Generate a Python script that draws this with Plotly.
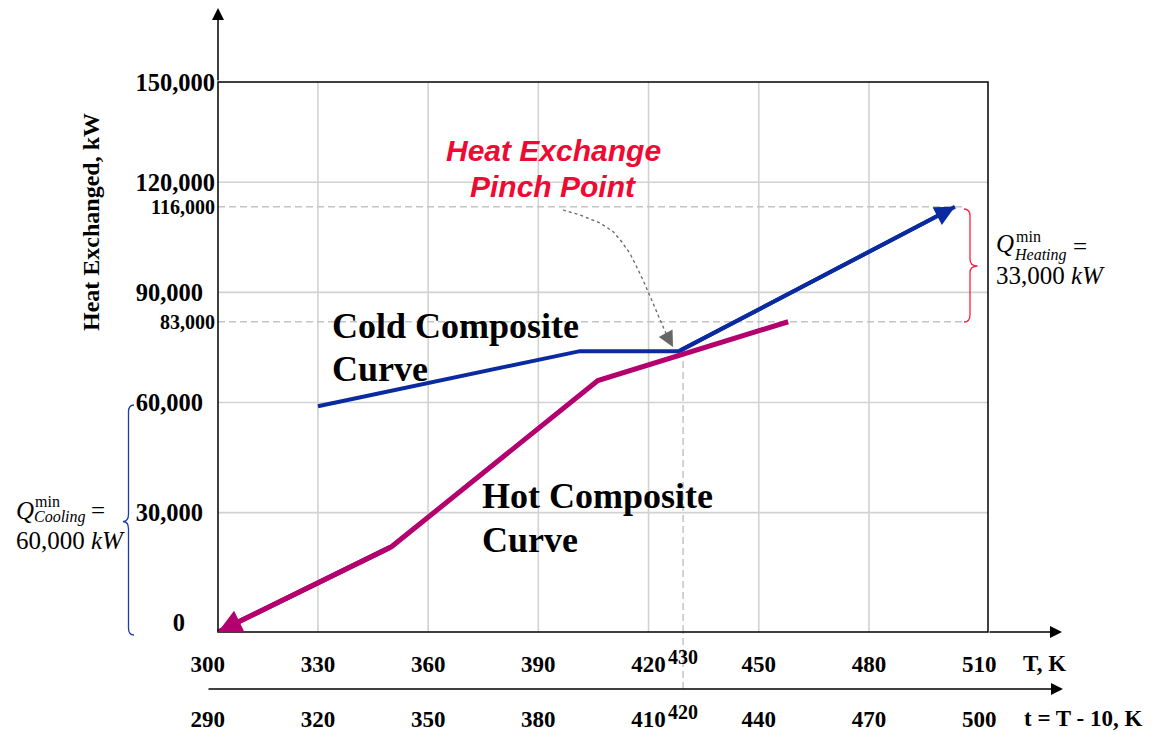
import plotly.graph_objects as go

# ---------------- values ----------------
# Cold composite curve (T in K, heat in kW); last point carries the arrowhead
COLD_T = [330.0, 401.3, 428.3, 503.4]
COLD_Q = [59000, 74000, 74000, 113300]
# Hot composite curve, listed in the direction of the arrow (hot -> cold)
HOT_T = [458.0, 406.2, 350.0, 302.8]
HOT_Q = [82000, 66000, 20700, -2500]

PINCH_T = 429.4           # dashed vertical through the pinch
PINCH_Q = 74000
DASH_END_T = 505.6        # right end of the horizontal dashed guides

T_TICKS = [300, 330, 360, 390, 420, 450, 480, 510]
T_TICK_TEXT = ["300", "330", "360", "390", "420", "450", "480", "510"]
t_TICKS = [290, 320, 350, 380, 410, 440, 470, 500]
t_TICK_TEXT = ["290", "320", "350", "380", "410", "440", "470", "500"]
PINCH_T_LABEL = "430"
PINCH_t_LABEL = "420"

GRID_T = [330, 360, 390, 420, 450, 480]
GRID_Q = [30000, 60000, 90000, 120000]

Q_TICKS_A = [30000, 60000, 90000]
Q_TICK_TEXT_A = ["30,000", "60,000", "90,000"]
Q_TICKS_B = [120000]
Q_TICK_TEXT_B = ["120,000"]
Q_TICKS_END = [HOT_Q[0], COLD_Q[-1]]
Q_TICK_TEXT_END = ["83,000", "116,000"]
Q_TICKS_ZERO = [0]
Q_TICK_TEXT_ZERO = ["0"]
FRAME_Q = [0, 150000]     # the frame edges are labelled 0 / 150,000
Q_TICKS_TOP = [150000]
Q_TICK_TEXT_TOP = ["150,000"]

BOX_T = [302.8, 512.4]    # frame of the chart in T units
BOX_Q = [-2500, 147300]   # frame of the chart in kW units

# ---------------- layout geometry ----------------
FIG_W, FIG_H = 1154, 734
M_L, M_R, M_T, M_B = 150, 60, 5, 5
PW = FIG_W - M_L - M_R
PH = FIG_H - M_T - M_B
BOX_L, BOX_R, BOX_TOP, BOX_BOT = 218, 988, 82, 632
T_AXIS_Y = 689


def fx(px):
    return (px - M_L) / PW


def fy(py):
    return (FIG_H - M_B - py) / PH


k_per_px = (BOX_T[1] - BOX_T[0]) / (BOX_R - BOX_L)
X_RANGE = [BOX_T[0] - (BOX_L - M_L) * k_per_px,
           BOX_T[1] + (M_L + PW - BOX_R) * k_per_px]

SERIF = "Liberation Serif, Times New Roman, serif"
SANS = "Liberation Sans, Arial, sans-serif"
COLD = "#0A2BA0"
HOT = "#B4006E"
GRID = "#D2D2D2"
DASH = "#C4C4C4"
PINCH_RED = "#EE0A32"

fig = go.Figure()

fig.add_trace(go.Scatter(x=COLD_T, y=COLD_Q, mode="lines",
                         line=dict(color=COLD, width=4), hoverinfo="skip",
                         showlegend=False))
fig.add_trace(go.Scatter(x=HOT_T, y=HOT_Q, mode="lines",
                         line=dict(color=HOT, width=5), hoverinfo="skip",
                         showlegend=False))
# empty traces that bind the label-only axes
for ya in ["y2", "y3", "y4", "y5"]:
    fig.add_trace(go.Scatter(x=[None], y=[None], xaxis="x", yaxis=ya,
                             hoverinfo="skip", showlegend=False))
fig.add_trace(go.Scatter(x=[None], y=[None], xaxis="x2", yaxis="y",
                         hoverinfo="skip", showlegend=False))

tick_font = dict(family=SERIF, size=23, color="black", weight="bold")
ytick_font = dict(family=SERIF, size=24.5, color="black", weight="bold")
small_font = dict(family=SERIF, size=20, color="black", weight="bold")

common_y = dict(anchor="free", position=fx(BOX_L), side="left", showgrid=False,
                zeroline=False, showline=False, ticks="", tickmode="array",
                fixedrange=True)

fig.update_layout(
    width=FIG_W, height=FIG_H,
    margin=dict(l=M_L, r=M_R, t=M_T, b=M_B, autoexpand=False),
    paper_bgcolor="white", plot_bgcolor="rgba(0,0,0,0)",
    showlegend=False,
    xaxis=dict(domain=[0, 1], range=X_RANGE, tickmode="array", tickvals=T_TICKS,
               ticktext=T_TICK_TEXT, showgrid=False, zeroline=False,
               showline=False, ticks="", tickfont=tick_font,
               ticklabelstandoff=16, fixedrange=True),
    xaxis2=dict(overlaying="x", anchor="free", position=fy(T_AXIS_Y),
                range=[v - 10 for v in X_RANGE], tickmode="array",
                tickvals=t_TICKS, ticktext=t_TICK_TEXT, showgrid=False,
                zeroline=False, showline=False, ticks="", tickfont=tick_font,
                ticklabelstandoff=14, fixedrange=True),
    yaxis=dict(domain=[fy(BOX_BOT), fy(BOX_TOP)], range=BOX_Q,
               tickvals=Q_TICKS_A, ticktext=Q_TICK_TEXT_A, tickfont=ytick_font,
               ticklabelstandoff=15, **common_y),
    yaxis2=dict(overlaying="y", range=BOX_Q, tickvals=Q_TICKS_B,
                ticktext=Q_TICK_TEXT_B, tickfont=ytick_font,
                ticklabelstandoff=3, **common_y),
    yaxis3=dict(overlaying="y", range=BOX_Q, tickvals=Q_TICKS_END,
                ticktext=Q_TICK_TEXT_END, tickfont=small_font,
                ticklabelstandoff=3, **common_y),
    yaxis4=dict(overlaying="y", range=FRAME_Q, tickvals=Q_TICKS_TOP,
                ticktext=Q_TICK_TEXT_TOP, tickfont=ytick_font,
                ticklabelstandoff=3, **common_y),
    yaxis5=dict(overlaying="y", range=BOX_Q, tickvals=Q_TICKS_ZERO,
                ticktext=Q_TICK_TEXT_ZERO, tickfont=ytick_font,
                ticklabelstandoff=33, **common_y),
)

shapes = []
for t in GRID_T:
    shapes.append(dict(type="line", xref="x", yref="y", x0=t, x1=t,
                       y0=BOX_Q[0], y1=BOX_Q[1], layer="below",
                       line=dict(color=GRID, width=1.6)))
for q in GRID_Q:
    shapes.append(dict(type="line", xref="x", yref="y", x0=BOX_T[0], x1=BOX_T[1],
                       y0=q, y1=q, layer="below",
                       line=dict(color=GRID, width=1.6)))
for q in Q_TICKS_END:
    shapes.append(dict(type="line", xref="x", yref="y", x0=BOX_T[0], x1=DASH_END_T,
                       y0=q, y1=q, layer="below",
                       line=dict(color=DASH, width=1.5, dash="7px,4px")))
shapes.append(dict(type="line", xref="x", yref="y", x0=PINCH_T, x1=PINCH_T,
                   y0=BOX_Q[0], y1=PINCH_Q, layer="below",
                   line=dict(color=DASH, width=1.5, dash="7px,4px")))
shapes.append(dict(type="line", xref="x", yref="paper", x0=PINCH_T, x1=PINCH_T,
                   y0=fy(T_AXIS_Y), y1=fy(BOX_BOT), layer="below",
                   line=dict(color=DASH, width=1.5, dash="7px,4px")))
# chart frame
shapes.append(dict(type="rect", xref="paper", yref="paper",
                   x0=fx(BOX_L), x1=fx(BOX_R), y0=fy(BOX_BOT), y1=fy(BOX_TOP),
                   layer="above", line=dict(color="black", width=1.5)))


def ppath(cmds):
    out = []
    for c in cmds:
        if isinstance(c, str):
            out.append(c)
        else:
            out.append(f"{fx(c[0]):.5f},{fy(c[1]):.5f}")
    return " ".join(out)


left_brace = ["M", (134, 405), "Q", (128.5, 405), (128.5, 412), "L", (128.5, 514),
              "Q", (128.5, 521.5), (123, 521.5), "Q", (128.5, 521.5), (128.5, 529),
              "L", (128.5, 628), "Q", (128.5, 635), (134, 635)]
right_brace = ["M", (964, 209), "Q", (970, 209), (970, 216), "L", (970, 259),
               "Q", (970, 266), (977.5, 266), "Q", (970, 266), (970, 273),
               "L", (970, 315), "Q", (970, 322), (964, 322)]
shapes.append(dict(type="path", xref="paper", yref="paper", path=ppath(left_brace),
                   line=dict(color="#1C3CA8", width=1.3)))
shapes.append(dict(type="path", xref="paper", yref="paper", path=ppath(right_brace),
                   line=dict(color="#FF1E46", width=1.3)))

pointer_pts = [(563, 210), (580, 215), (600, 223), (613, 231.5), (621.5, 241.5),
               (630, 253.5), (636.5, 266.5), (643, 280), (648, 291.5),
               (653, 303), (658, 315), (663, 326.5), (667, 336)]
pp = ["M", pointer_pts[0]]
for p in pointer_pts[1:]:
    pp += ["L", p]
shapes.append(dict(type="path", xref="paper", yref="paper", path=ppath(pp),
                   line=dict(color="#666666", width=1.3, dash="3px,3px")))
fig.update_layout(shapes=shapes)

ann = []
# axis arrows
for (tx, ty, ax, ay) in [(BOX_L, 8, 0, BOX_TOP - 8),
                         (1062, BOX_BOT, -(1062 - BOX_R), 0),
                         (1063, T_AXIS_Y, -(1063 - 207), 0)]:
    ann.append(dict(xref="paper", yref="paper", x=fx(tx), y=fy(ty), ax=ax, ay=ay,
                    text="", showarrow=True, arrowhead=2, arrowsize=1.6,
                    arrowwidth=1.5, arrowcolor="black"))
# curve arrowheads (last segment of each curve)
ann.append(dict(xref="x", yref="y", axref="x", ayref="y",
                x=COLD_T[-1], y=COLD_Q[-1], ax=COLD_T[-2], ay=COLD_Q[-2],
                text="", showarrow=True, arrowhead=2, arrowsize=1.0,
                arrowwidth=4, arrowcolor=COLD))
ann.append(dict(xref="x", yref="y", axref="x", ayref="y",
                x=HOT_T[-1], y=HOT_Q[-1], ax=HOT_T[-2], ay=HOT_Q[-2],
                text="", showarrow=True, arrowhead=2, arrowsize=0.95,
                arrowwidth=5, arrowcolor=HOT))
# pointer head
ann.append(dict(xref="paper", yref="paper", x=fx(673), y=fy(347), ax=-8, ay=-15,
                text="", showarrow=True, arrowhead=2, arrowsize=2.6,
                arrowwidth=1.2, arrowcolor="#666666"))


def txt(s, px, py, font, xanchor="left", angle=0):
    ann.append(dict(xref="paper", yref="paper", x=fx(px), y=fy(py), text=s,
                    showarrow=False, xanchor=xanchor, yanchor="middle",
                    font=font, textangle=angle))


big = dict(family=SERIF, size=36, color="black", weight="bold")
txt("Cold Composite", 330, 326, big)
txt("Curve", 330, 368.5, big)
txt("Hot Composite", 480, 496, big)
txt("Curve", 480, 540, big)

red = dict(family=SANS, size=30, color=PINCH_RED, weight="bold", style="italic")
txt("Heat Exchange", 553.5, 150, red, xanchor="center")
txt("Pinch Point", 553.5, 187, red, xanchor="center")

axis_lbl = dict(family=SERIF, size=23, color="black", weight="bold")
txt("T, K", 1021, 663, axis_lbl)
txt("t = T - 10, K", 1022, 718, axis_lbl)
txt("Heat Exchanged, kW", 91, 222, dict(family=SERIF, size=24, color="black",
                                        weight="bold"), xanchor="center", angle=-90)

# small labels of the pinch temperature on both scales
ann.append(dict(xref="x", yref="paper", x=PINCH_T, y=fy(657), text=PINCH_T_LABEL,
                showarrow=False, xanchor="center", yanchor="middle", font=small_font))
ann.append(dict(xref="x2", yref="paper", x=PINCH_T - 10, y=fy(712), text=PINCH_t_LABEL,
                showarrow=False, xanchor="center", yanchor="middle", font=small_font))

# Q_min annotations
qf = dict(family=SERIF, size=25, color="black")
sf = dict(family=SERIF, size=16, color="black")
txt("<i>Q</i>", 14, 510, qf)
txt("min", 33, 501, sf)
txt("<i>Cooling</i>", 32, 517, sf)
txt("=", 89, 511, qf)
txt("60,000 <i>kW</i>", 14, 540, qf)

txt("<i>Q</i>", 994, 244, qf)
txt("min", 1014, 237, sf)
txt("<i>Heating</i>", 1012, 255, sf)
txt("=", 1071, 246, qf)
txt("33,000 <i>kW</i>", 994, 275, qf)

fig.update_layout(annotations=ann)
fig.write_html("out.html")
